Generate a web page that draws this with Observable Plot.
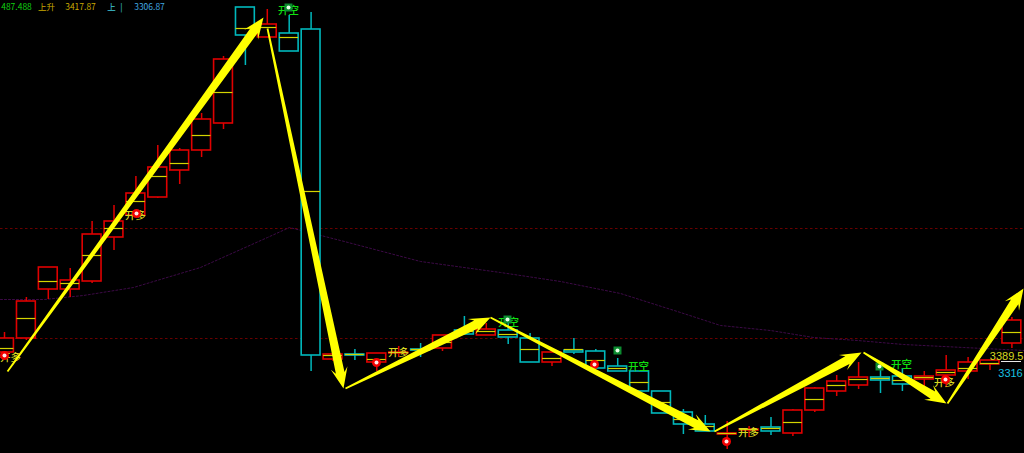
<!DOCTYPE html>
<html><head><meta charset="utf-8">
<script src="https://cdn.jsdelivr.net/npm/d3@7"></script>
<script src="https://cdn.jsdelivr.net/npm/@observablehq/plot@0.6"></script>
<style>html,body{margin:0;padding:0;background:#000;overflow:hidden}svg{display:block}</style>
</head><body><div id="chart"></div>
<script>
// chart units: value = 453 - screen row; x = candle index
const top_ = [338,301,267,280,234,221,193,167,150,119,59,7,24,33,29,354,354,353,352,349,335,330,329,330,338,352,350,351,366,371,391,412,424,433,429,427,410,388,381,377,377,376,376,370,362,360,320];
const bot_ = [352,338,289,289,281,237,215,197,170,150,123,35,37,51,355,359,355,362,353,350,348,334,335,337,362,362,352,368,371,391,413,424,431,434,430,431,433,410,391,385,380,384,379,375,371,364,343];
const mid_ = [348,318,281,283,255,228,201,176,163,135,92,28,27,37,191,355,354,359,352,349,342,331,331,334,349,358,349,360,368,382,402,419,426,433,429,428,422,399,385,379,378,380,377,372,368,363,332];
const hi_ = [332,297,267,268,221,205,176,145,148,113,56,7,9,15,12,347,349,353,346,343,335,316,323,321,333,352,338,349,358,371,391,409,415,421,426,417,409,387,375,362,369,368,371,355,357,360,317];
const lo_ = [357,340,299,297,283,250,215,198,184,157,129,65,37,51,371,361,360,371,357,357,351,334,335,344,362,366,354,368,371,391,413,434,431,449,437,435,436,412,396,389,393,391,386,387,379,370,348];
const upFlag = [1,1,1,1,1,1,1,1,1,1,1,0,1,0,0,1,0,1,1,0,1,0,1,0,0,1,0,0,0,0,0,0,0,1,1,0,1,1,1,1,0,0,1,1,1,1,1];

const maX = [0,44,83,133,200,267,289,340,420,500,560,620,680,720,770,813,857,903,963,983,1024];
const maRow = [299,299,295,287,267,237,227,240,261,272,281,293,312,325,330,337,340,344,347,348,350];

const arrowTail = [[7,371],[267,28],[345,388],[490,317],[714,431],[863,352],[947,403]];
const arrowHead = [[263,17],[343,388],[490,317],[710,431],[861,352],[946,403],[1023,288]];

const redDots = [[4,355],[136,213],[376,362],[594,364],[726,441],[945,379]];
const greenDots = [[288,7],[507,319],[617,350],[879,366]];
const longLabels = [[10,357],[135,215],[398,352],[748,432],[944,382]];
const shortLabels = [[288,10],[508,322],[638,366],[901,364]];
const guideRows = [228,338];

const headerText = ["487.488","上升","3417.87","上","|","3306.87"];
const headerX = [16,46,80,111,121,149];
const headerColor = ["#10d010","#c8a800","#c8a800","#40c8d8","#40c8d8","#40a8e0"];

const X0 = 4, DX = 21.9;
const toI = px => (px - X0) / DX;
const val = row => 453 - row;

const candles = top_.map((t,i)=>({i,t:val(t),b:val(bot_[i]),m:val(mid_[i]),h:val(hi_[i]),l:val(lo_[i]),up:upFlag[i]}));
const red = candles.filter(d=>d.up), cyan = candles.filter(d=>!d.up);
const ma = maX.map((x,i)=>({x:toI(x),y:val(maRow[i])}));

function arrowPoly(a,b){
  const dx=b[0]-a[0],dy=b[1]-a[1],L=Math.hypot(dx,dy),ux=dx/L,uy=dy/L,nx=-uy,ny=ux;
  const p=(along,side)=>({x:toI(a[0]+ux*along+nx*side),y:val(a[1]+uy*along+ny*side)});
  return [p(0,-.9),p(L-16,-4.4),p(L-21,-8.5),p(L,0),p(L-21,8.5),p(L-16,4.4),p(0,.9),p(0,-.9)];
}
const pt = a => ({x:toI(a[0]),y:val(a[1])});

function candleMarks(data,color){
  return [
    Plot.ruleX(data,{x:"i",y1:"l",y2:"h",stroke:color,strokeWidth:1.5}),
    Plot.rect(data,{x1:d=>d.i-.43,x2:d=>d.i+.43,y1:"b",y2:"t",fill:"#000",stroke:color,strokeWidth:1.6}),
    Plot.ruleY(data,{y:"m",x1:d=>d.i-.43,x2:d=>d.i+.43,stroke:"#d4d400",strokeWidth:1.2})
  ];
}
const font = {fontFamily:"'Noto Sans CJK SC'",fontSize:10.5,fontWeight:500};
const numFont = {fontFamily:"'Liberation Sans'",fontSize:11};

const chart = Plot.plot({
  width:1024,height:453,margin:0,
  style:{background:"#000"},
  x:{type:"linear",domain:[toI(0),toI(1024)],axis:null},
  y:{type:"linear",domain:[0,453],axis:null},
  marks:[
    Plot.ruleY(guideRows.map(val),{stroke:"#680000",strokeDasharray:"2.5 2.5",strokeWidth:1}),
    Plot.line(ma,{x:"x",y:"y",stroke:"#3c0a46",strokeDasharray:"2 2",strokeWidth:1,curve:"linear"}),
    ...candleMarks(red,"#e00000"),
    ...candleMarks(cyan,"#00b8bc"),
    Plot.text(longLabels.map(pt),{x:"x",y:"y",text:()=>"开多",fill:"#d8d820",...font}),
    Plot.text(shortLabels.map(pt),{x:"x",y:"y",text:()=>"开空",fill:"#10e010",...font}),
    Plot.dot(greenDots.map(pt),{x:"x",y:"y",r:4.5,fill:"#0c8c30",symbol:"square"}),
    Plot.dot(greenDots.map(pt),{x:"x",y:"y",r:2,fill:"#e8ffe8"}),
    Plot.dot(redDots.map(pt),{x:"x",y:"y",r:4.5,fill:"#f40000"}),
    Plot.dot(redDots.map(pt),{x:"x",y:"y",r:2,fill:"#ffe8e8"}),
    ...arrowTail.map((a,k)=>Plot.line(arrowPoly(a,arrowHead[k]),{x:"x",y:"y",fill:"#ffff00",stroke:"none"})),
    Plot.text(headerText,{x:(d,i)=>toI(headerX[i]),y:()=>val(7),text:d=>d,fill:(d,i)=>headerColor[i],fontFamily:"'Noto Sans CJK SC','Liberation Sans'",fontSize:8.5}),
    Plot.text(["3389.5"],{x:()=>toI(1023),y:()=>val(356),text:d=>d,textAnchor:"end",fill:"#d8d820",...numFont}),
    Plot.ruleY([val(361)],{x1:toI(1001),x2:toI(1021),stroke:"#e8e8e8"}),
    Plot.text(["3316"],{x:()=>toI(1010),y:()=>val(373),text:d=>d,fill:"#18c0e0",...numFont})
  ]
});
document.getElementById("chart").append(chart);
</script></body></html>
